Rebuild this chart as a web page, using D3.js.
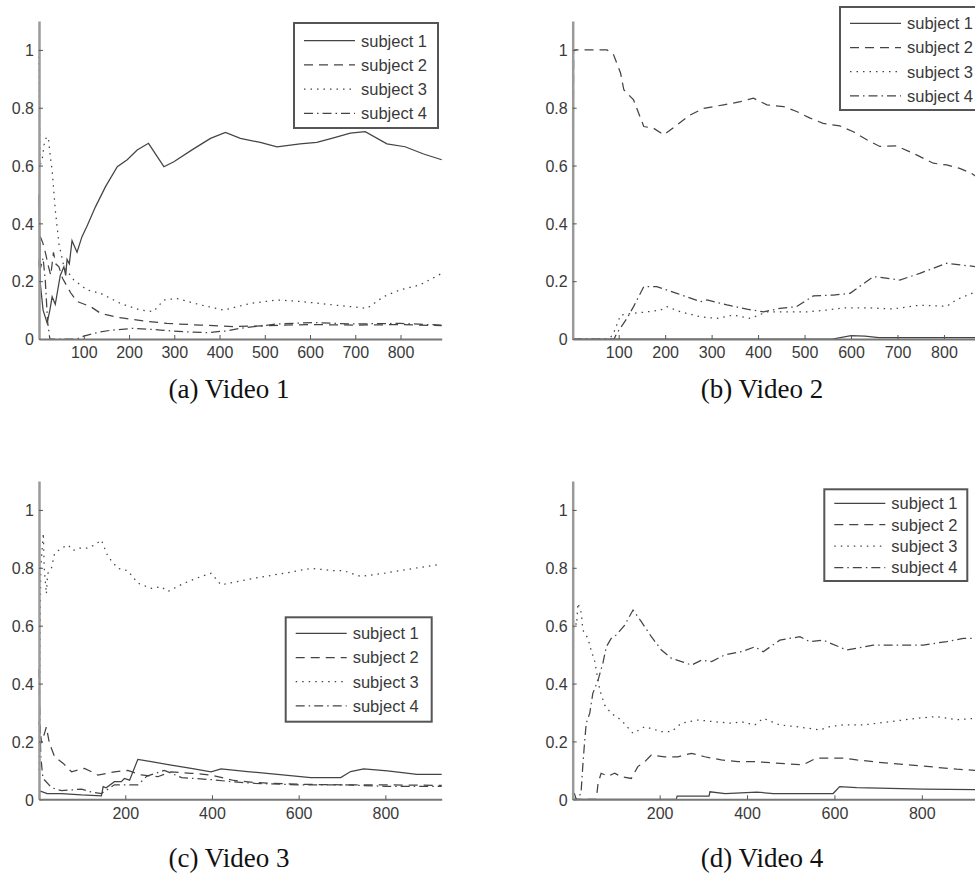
<!DOCTYPE html>
<html lang="en">
<head>
  <meta charset="UTF-8" />
  <title>Subject scores per video</title>
  <script src="https://d3js.org/d3.v7.min.js"></script>
  <style>
    body { margin: 0; background: #fff; }
    .tick-label { font: 16px "Liberation Sans", Arial, sans-serif; fill: #3a3a3a; }
    .legend-label { font: 16.5px "Liberation Sans", Arial, sans-serif; fill: #3a3a3a; }
    .caption { font: 27px "Liberation Serif", "Times New Roman", serif; fill: #111; }
    .series { fill: none; stroke: #444; stroke-width: 1.25px; }
  </style>
</head>
<body>
<script>
  // ---- data: [frame, score] ----
  const subjects = ["subject 1", "subject 2", "subject 3", "subject 4"];
  const yTicks = [0, 0.2, 0.4, 0.6, 0.8, 1];
  const xTicksAB = [100, 200, 300, 400, 500, 600, 700, 800];
  const xTicksCD = [200, 400, 600, 800];

  // Video 1
  const v1s1 = [[1,0.5],[4,0.19],[10,0.1],[19,0.055],[25,0.1],[30,0.146],[37,0.12],[48,0.22],[56,0.25],[60,0.22],[63,0.275],[68,0.26],[74,0.34],[85,0.30],[96,0.354],[107,0.39],[126,0.458],[148,0.527],[174,0.596],[196,0.62],[218,0.654],[243,0.677],[277,0.596],[299,0.613],[340,0.655],[380,0.694],[413,0.715],[446,0.694],[490,0.68],[527,0.665],[578,0.675],[615,0.68],[650,0.695],[689,0.712],[722,0.717],[770,0.675],[810,0.665],[851,0.64],[891,0.62]];
  const v1s2 = [[1,0.25],[4,0.354],[10,0.33],[15,0.30],[22,0.25],[27,0.22],[33,0.30],[38,0.26],[45,0.25],[53,0.21],[71,0.16],[85,0.13],[115,0.112],[137,0.089],[174,0.075],[188,0.072],[233,0.062],[284,0.054],[358,0.048],[431,0.043],[500,0.046],[600,0.05],[700,0.048],[800,0.05],[891,0.046]];
  const v1s3 = [[1,1.0],[3,0.6],[8,0.62],[13,0.68],[18,0.70],[22,0.69],[26,0.63],[30,0.585],[37,0.446],[45,0.33],[56,0.25],[78,0.204],[107,0.17],[137,0.158],[181,0.123],[225,0.10],[254,0.095],[277,0.135],[306,0.14],[358,0.118],[409,0.10],[468,0.123],[527,0.135],[578,0.13],[651,0.118],[726,0.106],[762,0.146],[799,0.17],[843,0.187],[891,0.227]];
  const v1s4 = [[1,0.27],[5,0.25],[10,0.28],[15,0.2],[20,0.06],[25,0],[85,0],[100,0.01],[137,0.025],[159,0.03],[210,0.037],[269,0.031],[321,0.025],[372,0.022],[416,0.028],[446,0.037],[490,0.045],[527,0.052],[607,0.057],[689,0.052],[799,0.054],[891,0.048]];

  // Video 2
  const v2s1 = [[1,0],[560,0],[600,0.012],[630,0.01],[660,0.005],[869,0.005]];
  const v2s2 = [[1,0],[3,1.0],[75,1.0],[89,0.983],[104,0.92],[111,0.862],[132,0.827],[154,0.735],[175,0.729],[197,0.706],[225,0.74],[254,0.775],[283,0.798],[326,0.81],[362,0.821],[390,0.833],[419,0.81],[455,0.804],[483,0.787],[512,0.764],[540,0.746],[576,0.737],[605,0.717],[634,0.689],[662,0.666],[698,0.668],[741,0.637],[777,0.608],[806,0.602],[834,0.59],[859,0.573],[869,0.562]];
  const v2s3 = [[1,0],[80,0],[89,0.02],[104,0.083],[132,0.089],[161,0.094],[190,0.10],[204,0.112],[233,0.094],[276,0.077],[311,0.071],[347,0.083],[383,0.071],[419,0.094],[462,0.094],[505,0.094],[548,0.10],[584,0.108],[634,0.108],[691,0.104],[748,0.117],[806,0.113],[827,0.136],[869,0.164]];
  const v2s4 = [[1,0],[90,0],[96,0.02],[118,0.072],[132,0.112],[154,0.181],[182,0.181],[225,0.158],[276,0.129],[290,0.135],[333,0.118],[376,0.103],[412,0.094],[447,0.106],[483,0.112],[519,0.149],[562,0.152],[598,0.158],[648,0.216],[705,0.204],[748,0.227],[806,0.262],[869,0.25]];

  // Video 3
  const v3s1 = [[1,0.03],[20,0.02],[53,0.02],[99,0.015],[145,0.012],[149,0.044],[156,0.04],[175,0.061],[191,0.061],[198,0.072],[210,0.066],[229,0.138],[260,0.13],[306,0.118],[352,0.107],[398,0.095],[421,0.105],[482,0.096],[551,0.086],[628,0.075],[697,0.075],[720,0.096],[750,0.105],[805,0.098],[873,0.086],[930,0.086]];
  const v3s2 = [[1,0.27],[7,0.194],[18,0.25],[25,0.194],[37,0.147],[57,0.124],[76,0.095],[106,0.107],[137,0.084],[175,0.095],[206,0.10],[237,0.084],[275,0.078],[306,0.095],[352,0.09],[398,0.084],[451,0.065],[500,0.058],[600,0.052],[700,0.05],[800,0.05],[930,0.048]];
  const v3s3 = [[1,0.1],[5,0.8],[11,0.92],[13,0.80],[18,0.71],[21,0.78],[30,0.80],[37,0.85],[53,0.868],[68,0.879],[80,0.86],[91,0.868],[114,0.868],[129,0.879],[145,0.896],[160,0.839],[183,0.798],[206,0.79],[229,0.747],[260,0.729],[283,0.735],[298,0.718],[336,0.747],[375,0.77],[398,0.781],[421,0.741],[497,0.764],[566,0.781],[628,0.798],[681,0.79],[704,0.79],[743,0.77],[796,0.781],[865,0.798],[930,0.813]];
  const v3s4 = [[1,0.45],[5,0.15],[10,0.073],[30,0.04],[53,0.03],[99,0.035],[122,0.025],[145,0.02],[175,0.05],[229,0.05],[250,0.08],[290,0.1],[330,0.075],[400,0.068],[450,0.06],[500,0.055],[600,0.05],[700,0.05],[800,0.045],[930,0.045]];

  // Video 4
  const v4s1 = [[1,0],[238,0],[240,0.011],[313,0.011],[315,0.026],[350,0.02],[422,0.025],[460,0.02],[597,0.02],[612,0.044],[651,0.04],[803,0.035],[924,0.033]];
  const v4s2 = [[1,0],[55,0],[59,0.055],[66,0.09],[82,0.08],[97,0.09],[112,0.078],[135,0.072],[150,0.113],[166,0.13],[181,0.153],[211,0.147],[242,0.147],[273,0.159],[303,0.147],[341,0.136],[379,0.13],[422,0.13],[475,0.124],[528,0.119],[558,0.142],[620,0.142],[651,0.136],[727,0.124],[803,0.115],[880,0.104],[924,0.1]];
  const v4s3 = [[1,0.05],[3,0.62],[10,0.602],[13,0.678],[21,0.643],[24,0.585],[36,0.556],[43,0.516],[51,0.48],[59,0.412],[63,0.378],[74,0.326],[89,0.297],[112,0.274],[139,0.228],[166,0.251],[204,0.234],[227,0.234],[250,0.263],[288,0.274],[326,0.268],[364,0.263],[387,0.268],[418,0.257],[437,0.28],[475,0.257],[513,0.251],[567,0.24],[589,0.251],[620,0.257],[666,0.257],[727,0.268],[788,0.28],[834,0.286],[880,0.275],[924,0.28]];
  const v4s4 = [[1,0.02],[5,0.02],[9,0],[20,0.02],[24,0.113],[28,0.194],[32,0.263],[40,0.297],[47,0.366],[59,0.412],[70,0.47],[78,0.527],[89,0.556],[101,0.568],[120,0.602],[139,0.654],[158,0.614],[181,0.562],[204,0.516],[227,0.487],[250,0.476],[273,0.464],[296,0.481],[319,0.476],[349,0.499],[387,0.51],[418,0.527],[437,0.51],[475,0.55],[521,0.562],[543,0.545],[574,0.55],[628,0.516],[689,0.533],[765,0.533],[803,0.533],[857,0.545],[895,0.556],[924,0.556]];

  // dash patterns for the four subjects (solid, dashed, dotted, dash-dot)
  const dashes = [null, "9,6", "1.5,5", "9,4,1.5,4"];

  // panel layout (pixel boxes)
  const panels = [
    { series: [v1s1, v1s2, v1s3, v1s4], xMax: 891, xTicks: xTicksAB,
      left: 39, right: 441.7, top: 21, bottom: 339,
      legend: { x: 294, y: 23, w: 144, h: 105, row0: 40.7, dy: 24.2 },
      caption: "(a) Video 1", capX: 229, capY: 389 },
    { series: [v2s1, v2s2, v2s3, v2s4], xMax: 869, xTicks: xTicksAB,
      left: 572.7, right: 976, top: 21, bottom: 339,
      legend: { x: 840, y: 7, w: 144, h: 103, row0: 23.3, dy: 24.2 },
      caption: "(b) Video 2", capX: 762, capY: 389 },
    { series: [v3s1, v3s2, v3s3, v3s4], xMax: 930, xTicks: xTicksCD,
      left: 39, right: 441.7, top: 481, bottom: 799.3,
      legend: { x: 285.7, y: 617.3, w: 146, h: 104.4, row0: 633.3, dy: 24.2 },
      caption: "(c) Video 3", capX: 229, capY: 858 },
    { series: [v4s1, v4s2, v4s3, v4s4], xMax: 924, xTicks: xTicksCD,
      left: 572.7, right: 976, top: 481, bottom: 799.3,
      legend: { x: 824.3, y: 489.3, w: 143, h: 91.7, row0: 503.3, dy: 21.4 },
      caption: "(d) Video 4", capX: 762, capY: 858 }
  ];

  const svg = d3.select("body").append("svg")
    .attr("width", 975)
    .attr("height", 882)
    .style("display", "block");

  svg.append("rect").attr("width", 975).attr("height", 882).attr("fill", "#fff");

  panels.forEach(p => {
    const x = d3.scaleLinear().domain([1, p.xMax]).range([p.left, p.right]);
    const y = d3.scaleLinear().domain([0, 1.1]).range([p.bottom, p.top]);
    const g = svg.append("g");

    // series
    const line = d3.line().x(d => x(d[0])).y(d => y(d[1]));
    p.series.forEach((s, i) => {
      g.append("path")
        .attr("class", "series")
        .attr("d", line(s))
        .attr("stroke-dasharray", dashes[i]);
    });

    // y axis (ticks pointing inward, matlab style)
    const yAxis = g.append("g").attr("transform", `translate(${p.left},0)`)
      .call(d3.axisLeft(y).tickValues(yTicks).tickSizeInner(-4).tickSizeOuter(0)
        .tickFormat(d => d === 0 ? "0" : d === 1 ? "1" : d3.format(".1f")(d)));
    yAxis.select(".domain").attr("stroke", "#9a9a9a").attr("stroke-width", 2.5);
    yAxis.selectAll(".tick line").attr("stroke", "#555");
    yAxis.selectAll(".tick text").attr("class", "tick-label").attr("x", -5).attr("dy", "0.36em");

    // x axis
    const xAxis = g.append("g").attr("transform", `translate(0,${p.bottom})`)
      .call(d3.axisBottom(x).tickValues(p.xTicks).tickSizeInner(-4).tickSizeOuter(0));
    xAxis.select(".domain").attr("stroke", "#777").attr("stroke-width", 2);
    xAxis.selectAll(".tick line").attr("stroke", "#555");
    xAxis.selectAll(".tick text").attr("class", "tick-label").attr("y", 8).attr("dy", "0.71em");

    // legend
    const L = p.legend;
    const lg = g.append("g");
    lg.append("rect")
      .attr("x", L.x).attr("y", L.y).attr("width", L.w).attr("height", L.h)
      .attr("fill", "#fff").attr("stroke", "#555").attr("stroke-width", 2);
    subjects.forEach((name, i) => {
      const cy = L.row0 + i * L.dy;
      lg.append("line")
        .attr("x1", L.x + 10).attr("x2", L.x + 61)
        .attr("y1", cy).attr("y2", cy)
        .attr("class", "series")
        .attr("stroke-dasharray", dashes[i]);
      lg.append("text")
        .attr("class", "legend-label")
        .attr("x", L.x + 67).attr("y", cy).attr("dy", "0.36em")
        .text(name);
    });

    // caption
    svg.append("text")
      .attr("class", "caption")
      .attr("x", p.capX).attr("y", p.capY)
      .attr("text-anchor", "middle").attr("dy", "0.35em")
      .text(p.caption);
  });
</script>
</body>
</html>
